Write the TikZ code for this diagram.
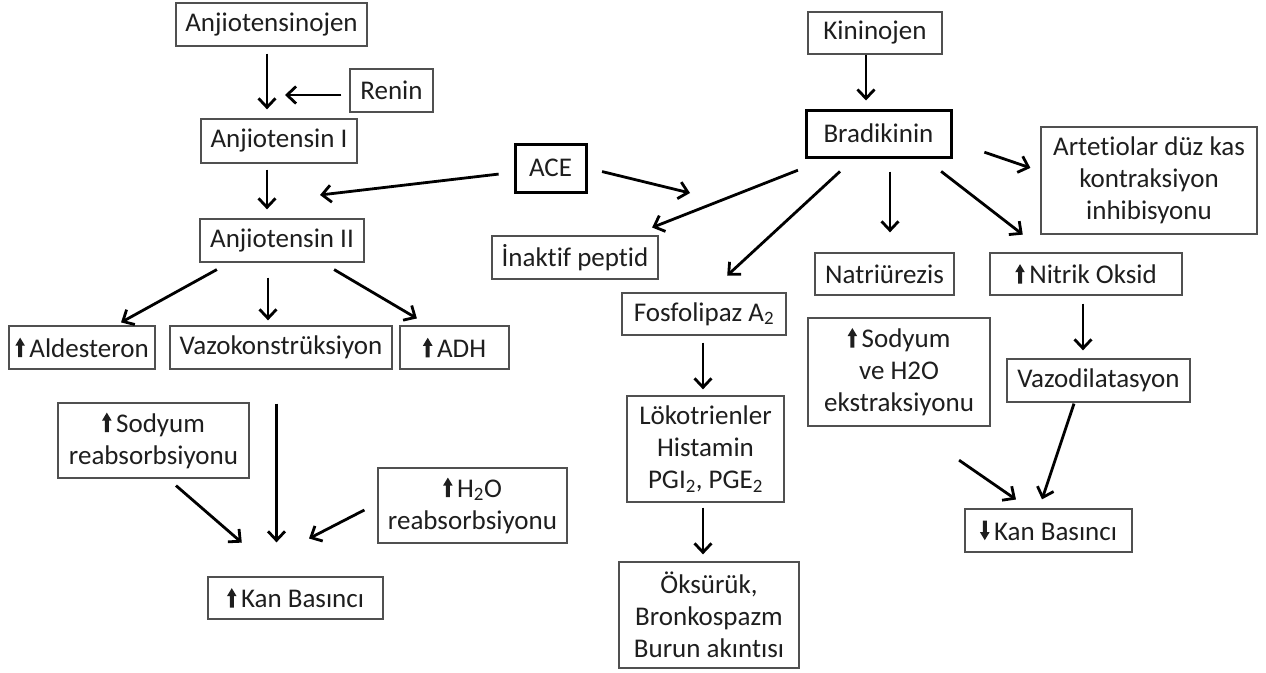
\documentclass[tikz,border=0pt]{standalone}
\usepackage{fontspec}
\setmainfont[Ligatures=NoCommon]{Carlito}
\usepackage{tikz}
\usetikzlibrary{arrows.meta, calc}

\definecolor{kenar}{HTML}{505050}
\definecolor{yazi}{HTML}{1E1E1E}

% small up / down arrows in front of the texts
\newcommand{\yukari}{\tikz[baseline=0pt,x=1pt,y=1pt]\fill (-2,0) -- (-2,11.5) -- (-4.8,11.5) -- (0,19.5) -- (4.8,11.5) -- (2,11.5) -- (2,0) -- cycle;\,}
\newcommand{\asagi}{\tikz[baseline=0pt,x=1pt,y=1pt]\fill (-2,19.5) -- (-2,8) -- (-4.8,8) -- (0,0) -- (4.8,8) -- (2,8) -- (2,19.5) -- cycle;\,}

\tikzset{
  kutu/.style={draw=kenar, line width=1.3pt, text=yazi, align=center, inner sep=0pt,
    minimum height=43pt, font=\fontsize{27}{32}\selectfont},
  kalin/.style={kutu, draw=black, line width=3pt},
  ok/.style={-{Straight Barb[length=9pt,width=17pt,line width=2.8pt]}, line width=2.8pt}
}

\begin{document}
\begin{tikzpicture}[x=1pt, y=-1pt]
  \fill[white] (0,0) rectangle (1266,672);

  % Anjiotensin side
  \node[kutu, minimum width=191pt] (ajn) at (271.5,24.5) {Anjiotensinojen};
  \node[kutu, minimum width=83pt] (renin) at (391.5,90.5) {Renin};
  \node[kutu, minimum width=156pt, minimum height=44pt] (a1) at (279,141) {Anjiotensin I};
  \node[kutu, minimum width=164pt] (a2) at (282,240.5) {Anjiotensin II};
  \node[kalin, minimum width=71pt, minimum height=48pt] (ace) at (550.5,168) {ACE};
  \node[kutu, minimum width=146pt] (ald) at (82,347.5) {\yukari Aldesteron};
  \node[kutu, minimum width=222pt] (vzk) at (281,347.5) {Vazokonstrüksiyon};
  \node[kutu, minimum width=109pt] (adh) at (454.5,347.5) {\yukari ADH};
  \node[kutu, minimum width=191pt, minimum height=75pt] (sra) at (153.5,440.5) {\yukari Sodyum\\reabsorbsiyonu};
  \node[kutu, minimum width=189pt, minimum height=75pt] (hra) at (472.5,505.5) {\yukari H\textsubscript{2}O\\reabsorbsiyonu};
  \node[kutu, minimum width=175pt, minimum height=42pt] (kbu) at (295.5,598) {\yukari Kan Basıncı};

  % Bradikinin side
  \node[kutu, minimum width=134pt, minimum height=42pt] (kin) at (875,33) {Kininojen};
  \node[kalin, minimum width=145pt, minimum height=47pt] (brd) at (878.5,133.5) {Bradikinin};
  \node[kutu, minimum width=216pt, minimum height=107pt] (art) at (1149,180.5) {Artetiolar düz kas\\kontraksiyon\\inhibisyonu};
  \node[kutu, minimum width=166pt] (ina) at (575,257.5) {İnaktif peptid};
  \node[kutu, minimum width=139pt, minimum height=42pt] (nat) at (884.5,274) {Natriürezis};
  \node[kutu, minimum width=192pt, minimum height=42pt] (no) at (1086,274) {\yukari Nitrik Oksid};
  \node[kutu, minimum width=164pt, minimum height=42pt] (fos) at (704,314) {Fosfolipaz A\textsubscript{2}};
  \node[kutu, minimum width=182pt, minimum height=108pt] (sev) at (899,372) {\yukari Sodyum\\ve H2O\\ekstraksiyonu};
  \node[kutu, minimum width=157pt, minimum height=106pt] (lok) at (705.5,449) {Lökotrienler\\Histamin\\PGI\textsubscript{2}, PGE\textsubscript{2}};
  \node[kutu, minimum width=180pt, minimum height=106pt] (oks) at (709,615) {Öksürük,\\Bronkospazm\\Burun akıntısı};
  \node[kutu, minimum width=183pt] (vzd) at (1098.5,380.5) {Vazodilatasyon};
  \node[kutu, minimum width=167pt] (kbd) at (1048.5,530.5) {\asagi Kan Basıncı};

  % arrows from bottom of one box to top of the next
  \foreach \u/\v/\du/\dv/\su/\sv in {ajn/a1/-4.5/-12/7/9, a1/a2/-12/-15/6/9,
      a2/ald/-52.6/33.7/14.3/6.1, a2/vzk/-14/-13/15/5, a2/adh/40.4/-25.9/13.6/13.6,
      vzk/kbu/-4.5/-19/34/34, sra/kbu/14.5/-14.8/10.6/51.5,
      kin/brd/-9/-12.5/0/8, brd/ina/-50.8/57.2/32/21.4, brd/fos/-24.5/5/19/24.8,
      brd/nat/11.5/5.5/13/20, brd/no/46/-40.3/21/29, fos/lok/-1/-2.5/7/6,
      lok/oks/-2.5/-6/5/7, no/vzd/-3/-15.5/8/8, vzd/kbd/-24.2/-9.5/1/9.5,
      sev/kbd/11.5/-19.7/59/15.6} {
    \draw[ok, shorten <=\su pt, shorten >=\sv pt] ($(\u.south)+(\du,0)$) -- ($(\v.north)+(\dv,0)$);
  }
  \draw[ok, shorten <=33.7pt, shorten >=10.5pt] ($(brd.east)+(0,7.8)$) -- ($(art.west)+(0,-9.2)$);
  \draw[ok, shorten <=14.6pt, shorten >=82.6pt] ($(hra.west)+(0,-2.2)$) -- ($(kbu.north)+(-59.9,0)$);

  % renin and ACE act on the arrows
  \coordinate (reninuc) at (285,95);
  \coordinate (aceuc1) at (320,195);
  \coordinate (aceuc2) at (690,193);
  \draw[ok, shorten <=8pt] (renin.west |- reninuc) -- (reninuc);
  \draw[ok, shorten <=15pt] (ace) -- (aceuc1);
  \draw[ok, shorten <=15pt] (ace.east) -- (aceuc2);
\end{tikzpicture}
\end{document}
